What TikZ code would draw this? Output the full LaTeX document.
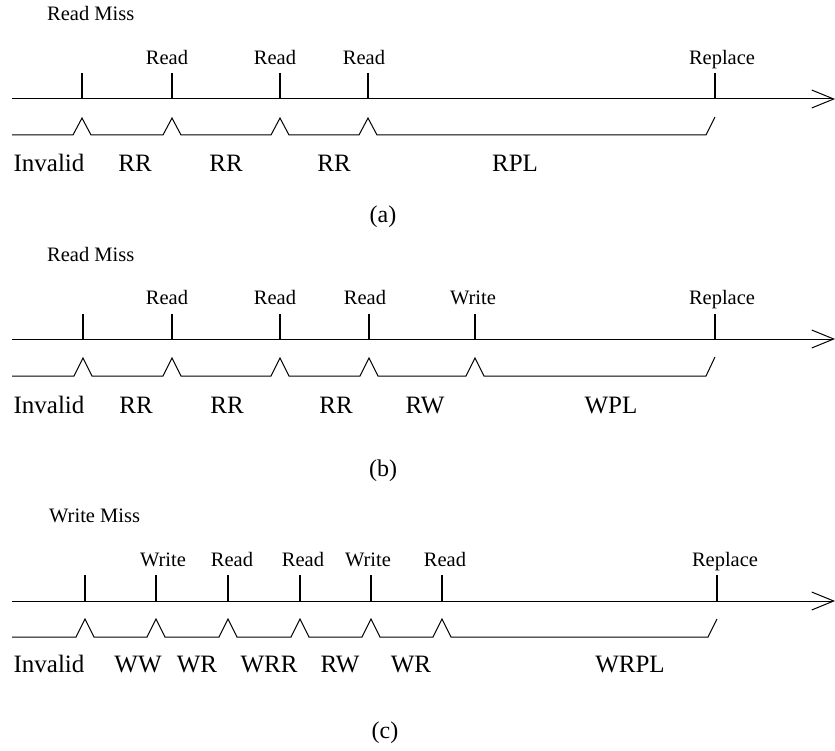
\documentclass[tikz,border=0pt]{standalone}
\usepackage{fontspec}
\setmainfont{Liberation Serif}
\usetikzlibrary{arrows.meta,positioning,calc}
\tikzset{
  timeaxis/.style={-{Straight Barb[length=22pt,width=18pt,line width=1pt]},line width=1pt},
  tickmark/.style={line width=1.1pt},
  stateline/.style={line width=1pt,line join=miter},
  evtext/.style={font=\fontsize{20.5}{23}\selectfont,inner sep=0pt,anchor=base},
  headtext/.style={font=\fontsize{20.5}{23}\selectfont,inner sep=0pt,anchor=base west},
  statetext/.style={font=\fontsize{25}{28}\selectfont,inner sep=0pt,anchor=base},
  captext/.style={font=\fontsize{24}{27}\selectfont,inner sep=0pt,anchor=base}
}

\begin{document}
\begin{tikzpicture}[x=1pt,y=-1pt]
\useasboundingbox (0,0) rectangle (835,751);

% (a) read miss, reads only
\node[headtext] (heada) at (47,21) {Read Miss};
\coordinate (starta) at (12,99);
\coordinate (enda) at (835,99);
\draw[timeaxis] (starta) -- (enda);
\foreach \n/\x/\lx/\t in {1/82/82/,2/172/167/Read,3/280/275/Read,4/368/364/Read,5/715/722/Replace} {
  \draw[tickmark] (\x,73) -- (\x,99);
  \node[evtext] (eva\n) at (\lx,65) {\t};
}
\draw[stateline] (12,135) \foreach \x in {82,172,280,368} { -- (\x-9,135) -- (\x,118) -- (\x+9,135) }
  -- (706,135) -- (715,117);
\foreach \n/\x/\t in {1/49/Invalid,2/135/RR,3/226/RR,4/334/RR,5/515/RPL} {
  \node[statetext] (sta\n) at (\x,172) {\t};
}
\node[captext] (capa) at (383,223) {(a)};

% (b) read miss, then a write
\node[headtext] (headb) at (47,262) {Read Miss};
\coordinate (startb) at (12,339);
\coordinate (endb) at (835,339);
\draw[timeaxis] (startb) -- (endb);
\foreach \n/\x/\lx/\t in {1/83/83/,2/172/167/Read,3/280/275/Read,4/369/365/Read,5/475/473/Write,6/715/722/Replace} {
  \draw[tickmark] (\x,314) -- (\x,339);
  \node[evtext] (evb\n) at (\lx,305) {\t};
}
\draw[stateline] (12,376) \foreach \x in {83,172,280,369,475} { -- (\x-9,376) -- (\x,358) -- (\x+9,376) }
  -- (706,376) -- (715,357);
\foreach \n/\x/\t in {1/49/Invalid,2/136/RR,3/227/RR,4/336/RR,5/425/RW,6/611/WPL} {
  \node[statetext] (stb\n) at (\x,413) {\t};
}
\node[captext] (capb) at (383,476) {(b)};

% (c) write miss
\node[headtext] (headc) at (49,522) {Write Miss};
\coordinate (startc) at (12,601);
\coordinate (endc) at (835,601);
\draw[timeaxis] (startc) -- (endc);
\foreach \n/\x/\lx/\t in {1/85/85/,2/156/163/Write,3/228/232/Read,4/300/303/Read,5/371/368/Write,6/442/445/Read,7/717/725/Replace} {
  \draw[tickmark] (\x,575) -- (\x,601);
  \node[evtext] (evc\n) at (\lx,566) {\t};
}
\draw[stateline] (12,637) \foreach \x in {85,156,228,300,371,442} { -- (\x-9,637) -- (\x,619) -- (\x+9,637) }
  -- (708,637) -- (717,619);
\foreach \n/\x/\t in {1/49/Invalid,2/138/WW,3/197/WR,4/269/WRR,5/340/RW,6/411/WR,7/630/WRPL} {
  \node[statetext] (stc\n) at (\x,672) {\t};
}
\node[captext] (capc) at (385,738) {(c)};
\end{tikzpicture}
\end{document}
